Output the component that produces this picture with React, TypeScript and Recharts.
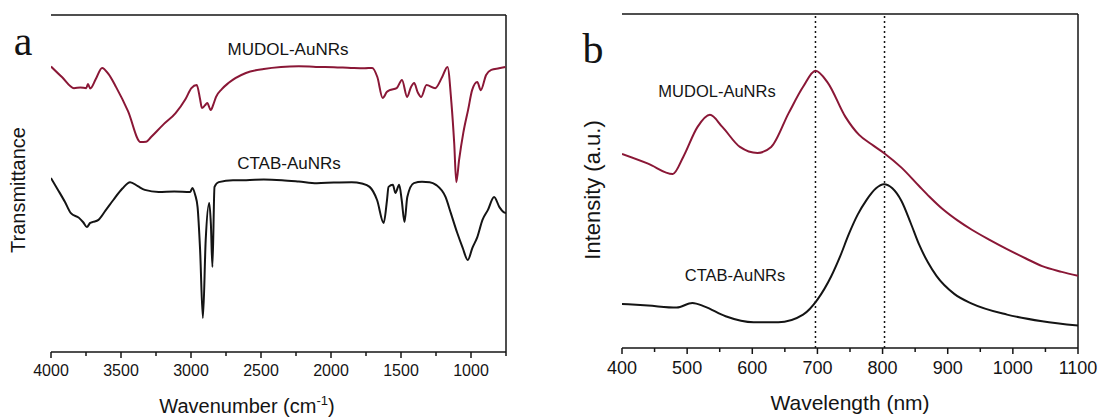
import React from 'react';
import { LineChart, Line, XAxis, YAxis, ReferenceLine } from 'recharts';

// (a) FTIR spectra, transmittance in a.u. (0 = bottom of frame, 100 = top)
const ftirMudolWn = [4000, 3920, 3836, 3790, 3748, 3736, 3720, 3680, 3635, 3590, 3535, 3450, 3360, 3320, 3285, 3200, 3110, 3040, 2997, 2959, 2935, 2922, 2900, 2884, 2859, 2840, 2821, 2780, 2733, 2608, 2480, 2357, 2230, 2107, 1980, 1857, 1760, 1706, 1669, 1631, 1600, 1581, 1531, 1493, 1456, 1430, 1406, 1380, 1356, 1318, 1256, 1206, 1168, 1140, 1120, 1105, 1085, 1055, 1020, 992, 955, 930, 892, 855, 800, 754];
const ftirMudolT = [84.7, 81.5, 78.3, 78.5, 78.3, 79.5, 78.2, 81.0, 84.3, 82.5, 78.6, 71.5, 62.3, 62.4, 63.8, 67.4, 70.9, 75.0, 78.3, 79.2, 75.0, 72.4, 73.2, 73.9, 71.8, 73.5, 75.7, 78.0, 79.8, 82.8, 84.0, 84.6, 84.8, 84.6, 84.5, 84.3, 84.2, 84.3, 81.6, 75.4, 77.2, 77.7, 78.3, 80.7, 75.7, 78.5, 79.8, 77.0, 75.7, 79.2, 78.3, 81.6, 84.6, 74.0, 62.0, 50.4, 57.0, 65.0, 72.0, 77.7, 80.1, 77.7, 82.2, 83.7, 84.2, 84.6];
const ftirCtabWn = [4000, 3950, 3900, 3858, 3800, 3770, 3744, 3720, 3700, 3661, 3610, 3555, 3490, 3435, 3380, 3330, 3231, 3120, 3005, 2990, 2970, 2953, 2935, 2915, 2895, 2870, 2858, 2847, 2832, 2802, 2700, 2606, 2480, 2350, 2230, 2101, 1980, 1852, 1780, 1724, 1671, 1624, 1600, 1589, 1558, 1540, 1513, 1495, 1475, 1455, 1408, 1350, 1295, 1250, 1182, 1144, 1098, 1060, 1023, 990, 955, 918, 880, 835, 797, 767, 750];
const ftirCtabT = [51.6, 48.1, 44.5, 41.2, 39.8, 38.5, 37.1, 38.3, 38.6, 39.2, 42.0, 45.1, 48.5, 50.4, 49.2, 48.1, 47.5, 47.6, 47.5, 48.7, 46.6, 43.0, 30.3, 10.1, 33.2, 44.2, 38.0, 25.2, 49.0, 50.4, 51.0, 51.0, 51.2, 51.0, 50.6, 50.1, 50.3, 50.4, 50.0, 49.0, 45.1, 38.3, 45.1, 49.0, 49.6, 47.2, 49.6, 45.1, 38.6, 46.0, 50.1, 50.5, 50.4, 49.6, 46.0, 41.2, 35.3, 31.0, 27.3, 30.9, 34.1, 39.2, 42.1, 46.0, 43.0, 41.5, 41.2];

// (b) UV-vis-NIR extinction spectra, intensity in a.u.
const uvMudolNm = [400, 440, 478, 494, 516, 535, 554, 581, 608, 629, 656, 678, 697, 716, 743, 764, 783, 802, 829, 856, 872, 894, 915, 937, 965, 991, 1020, 1045, 1075, 1100];
const uvMudolI = [58.1, 55.2, 52.1, 57.2, 66.2, 69.8, 66.2, 60.2, 58.4, 60.2, 70.4, 78.2, 83.0, 79.4, 69.2, 63.8, 61.0, 58.4, 54.0, 48.5, 45.3, 41.3, 38.2, 35.4, 32.3, 29.6, 26.8, 24.5, 22.8, 21.6];
const uvCtabNm = [400, 440, 484, 508, 527, 559, 602, 640, 678, 700, 721, 735, 748, 762, 775, 790, 802, 815, 829, 843, 856, 870, 883, 910, 937, 991, 1045, 1100];
const uvCtabI = [13.2, 12.7, 12.1, 13.5, 12.4, 9.5, 7.7, 7.7, 10.0, 14.5, 21.4, 27.5, 34.0, 40.0, 44.2, 47.8, 49.0, 47.8, 44.0, 37.5, 31.0, 25.5, 21.5, 16.2, 13.3, 10.0, 8.0, 6.7];
const bandMarks = [697, 803];

const ftirTicks = [4000, 3750, 3500, 3250, 3000, 2750, 2500, 2250, 2000, 1750, 1500, 1250, 1000, 750];
const uvTicks = [400, 450, 500, 550, 600, 650, 700, 750, 800, 850, 900, 950, 1000, 1050, 1100];

const zip = (xs: number[], ys: number[]) => xs.map((x, i) => ({ x, y: ys[i] }));

const RED = '#8a1736';
const INK = '#141414';
const SANS = '"Liberation Sans", Arial, sans-serif';
const TICK_SIZE = 6;
const TICK_MARGIN = 4;

const makeTick = (fontSize: number, step: number, baseline: number) => (props: any) => {
  const { x, y, payload } = props;
  const axisY = y - TICK_SIZE - TICK_MARGIN;
  const major = payload.value % step === 0;
  return (
    <g>
      <line x1={x} x2={x} y1={axisY} y2={axisY + (major ? 6 : 4)} stroke={INK} strokeWidth={1.5} />
      {major && (
        <text x={x} y={axisY + baseline} textAnchor="middle" fontSize={fontSize} fontFamily={SANS} fill={INK}>
          {payload.value}
        </text>
      )}
    </g>
  );
};

const frameProps = { stroke: INK, strokeWidth: 1.5 };

export default function App() {
  const mudolA = zip(ftirMudolWn, ftirMudolT);
  const ctabA = zip(ftirCtabWn, ftirCtabT);
  const mudolB = zip(uvMudolNm, uvMudolI);
  const ctabB = zip(uvCtabNm, uvCtabI);

  return (
    <div style={{ position: 'absolute', left: 0, top: 0, width: 1100, height: 419, background: '#fff' }}>
      <div style={{ position: 'absolute', left: 0, top: 0 }}>
        <LineChart width={550} height={419} margin={{ top: 15, right: 44, left: 51, bottom: 37 }}>
          <XAxis
            dataKey="x"
            type="number"
            domain={[750, 4000]}
            reversed
            ticks={ftirTicks}
            interval={0}
            height={30}
            tickSize={TICK_SIZE}
            tickMargin={TICK_MARGIN}
            tickLine={false}
            tick={makeTick(16, 500, 24)}
            axisLine={frameProps}
            allowDataOverflow
          />
          <YAxis type="number" domain={[0, 100]} width={0} tick={false} tickLine={false} axisLine={frameProps} />
          <ReferenceLine y={100} {...frameProps} />
          <ReferenceLine x={750} {...frameProps} />
          <Line data={mudolA} dataKey="y" type="monotone" stroke={RED} strokeWidth={2} dot={false} isAnimationActive={false} />
          <Line data={ctabA} dataKey="y" type="monotone" stroke={INK} strokeWidth={2} dot={false} isAnimationActive={false} />
        </LineChart>
      </div>

      <div style={{ position: 'absolute', left: 550, top: 0 }}>
        <LineChart width={550} height={419} margin={{ top: 14, right: 22, left: 72, bottom: 41 }}>
          <XAxis
            dataKey="x"
            type="number"
            domain={[400, 1100]}
            ticks={uvTicks}
            interval={0}
            height={30}
            tickSize={TICK_SIZE}
            tickMargin={TICK_MARGIN}
            tickLine={false}
            tick={makeTick(18, 100, 26)}
            axisLine={frameProps}
            allowDataOverflow
          />
          <YAxis type="number" domain={[0, 100]} width={0} tick={false} tickLine={false} axisLine={frameProps} />
          <ReferenceLine y={100} {...frameProps} />
          <ReferenceLine x={1100} {...frameProps} />
          {bandMarks.map((nm) => (
            <ReferenceLine key={nm} x={nm} stroke={INK} strokeWidth={1.5} strokeDasharray="2 3" />
          ))}
          <Line data={mudolB} dataKey="y" type="monotone" stroke={RED} strokeWidth={2} dot={false} isAnimationActive={false} />
          <Line data={ctabB} dataKey="y" type="monotone" stroke={INK} strokeWidth={2} dot={false} isAnimationActive={false} />
        </LineChart>
      </div>

      <svg width={1100} height={419} style={{ position: 'absolute', left: 0, top: 0, pointerEvents: 'none' }}>
        <g fontFamily={SANS} fill={INK}>
          <text x={23} y={55} fontSize={42} fontFamily='"Liberation Serif", "Times New Roman", serif' textAnchor="middle">a</text>
          <text x={593} y={63} fontSize={42} fontFamily='"Liberation Serif", "Times New Roman", serif' textAnchor="middle">b</text>
          <text transform="translate(25,190) rotate(-90)" fontSize={20} textAnchor="middle">Transmittance</text>
          <text transform="translate(600,190) rotate(-90)" fontSize={22} textAnchor="middle">Intensity (a.u.)</text>
          <text x={247} y={413} fontSize={20} textAnchor="middle">
            Wavenumber (cm<tspan dy={-8} fontSize={13}>-1</tspan><tspan dy={8}>)</tspan>
          </text>
          <text x={850} y={410} fontSize={21} textAnchor="middle">Wavelength (nm)</text>
          <text x={288} y={55} fontSize={17} textAnchor="middle">MUDOL-AuNRs</text>
          <text x={289} y={169} fontSize={17} textAnchor="middle">CTAB-AuNRs</text>
          <text x={717} y={97} fontSize={16.5} textAnchor="middle">MUDOL-AuNRs</text>
          <text x={735} y={281} fontSize={16.5} textAnchor="middle">CTAB-AuNRs</text>
        </g>
      </svg>
    </div>
  );
}
